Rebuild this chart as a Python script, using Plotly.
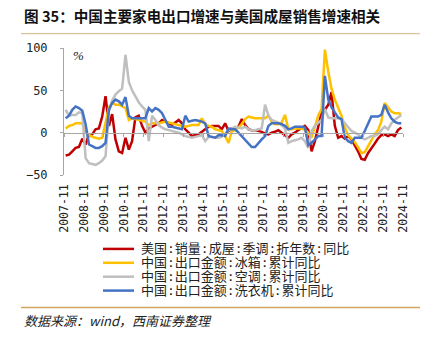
import pandas as pd
import plotly.graph_objects as go

# ---------------- data ----------------
dates = pd.date_range("2007-12-01", periods=102, freq="2MS")

us_home_sales = [-27, -26, -22, -18, -17, -7, -14, -2, -2, 4, 5, 19, 43, 8, 22, -8, -22, -24, -6, -20,
                 -10, 18, 20, 8, 0, 5, 7, 9, 11, 15, 13, 11, 9, 12, 15, 11, 4, 0, -4, -3,
                 -2, 1, 4, 7, 8, 8, 8, 4, 11, 2, 5, 6, 7, 16, 9, 4, 3, 3, 2, 1,
                 -1, -2, 0, 1, 3, 0, -4, -6, -2, 0, 3, 6, 8, 3, -22, -10, 6, 24, 27, 33,
                 48, 8, -6, -4, -7, -4, -8, -15, -22, -31, -32, -24, -19, -13, -7, -3, -2, -4, -2, -4,
                 3, 6]
fridge = [5, 8, 9, 11, 11, 11, 0, -3, -5, -6, -7, -6, 10, 30, 35, 33, 33, 31, 29, 15,
          17, 16, 15, 14, 13, 9, 11, 11, 11, 12, 13, 12, 11, 10, 9, 8, 7, 8, 9, 9,
          9, 17, 10, 8, 7, 4, 3, 2, -4, -12, 2, 3, 6, 10, 16, 19, 18, 17, 17, 17,
          17, 20, 13, 10, 10, 12, 21, 4, 4, 5, 5, 5, 3, 0, -6, 8, 20, 28, 98, 72,
          52, 39, 30, 20, 6, -3, -7, -11, -17, -24, -23, -16, -9, -2, 3, 13, 35, 30, 25, 23,
          23, 22]
aircon = [27, 20, 21, 21, 24, 23, -30, -36, -37, -38, -36, -33, -28, 25, 38, 45, 49, 52, 92, 60,
          50, 42, 36, 31, 27, -10, 20, 15, 9, 6, 4, 3, 2, 1, 0, -2, -4, -5, -6, -5,
          -4, -3, -10, -5, -5, -6, -6, -5, -2, 3, 5, 7, 6, 5, 7, 4, 3, 3, 4, 5,
          33, 20, 15, 13, 12, 9, 5, -12, -10, -9, -8, -6, -10, -18, 2, 8, 12, 15, 28, 18,
          17, 17, 17, 16, 11, 6, 2, 0, -2, -6, -8, -6, -4, -4, -2, 3, 7, 4, 11, 15,
          18, 21]
washer = [17, 20, 27, 31, 29, 26, 10, -14, -16, -18, -18, -16, -12, 27, 35, 39, 37, 33, 42, 20,
          17, 17, 17, 17, 17, 29, 25, 29, 27, 23, 15, 7, 7, 6, 5, 4, 20, 13, 14, 15,
          14, 13, 11, -4, -5, -6, -3, -3, -4, 5, 4, 4, 0, -4, -8, -13, -17, -17, -12, -8,
          -4, 8, 11, 11, 11, 10, 8, 4, 5, 7, 7, 7, 6, -15, -12, -8, -4, -4, 67, 39,
          30, 24, 18, 16, -6, -10, -12, -6, -6, -6, 2, 10, 19, 19, 19, 21, 33, 24, 17, 13,
          11, 11]

series_values = [us_home_sales, fridge, aircon, washer]
series_names = ["美国:销量:成屋:季调:折年数:同比",
                "中国:出口金额:冰箱:累计同比",
                "中国:出口金额:空调:累计同比",
                "中国:出口金额:洗衣机:累计同比"]
series_colors = ["#C00000", "#FFC000", "#BFBFBF", "#4472C4"]

tick_years = list(range(2007, 2025))
tick_dates = [f"{y}-11-01" for y in tick_years]
tick_labels = [f"{y}-11" for y in tick_years]
y_ticks = [-50, 0, 50, 100]

title_text = "图 35：中国主要家电出口增速与美国成屋销售增速相关"
source_text = "数据来源：wind，西南证券整理"

# ---------------- layout geometry ----------------
W, H = 436, 340
L, R, T, B = 64, 403, 47.5, 175.5


def px(x):
    return (x - L) / (R - L)


def py(y):
    return (B - y) / (B - T)


fig = go.Figure()
n = len(series_values)
for k, (vals, name, col) in enumerate(zip(series_values, series_names, series_colors)):
    # the top-most series lives on the overlaying label axis (same range) so that axis is drawn
    xa = "x2" if k == n - 1 else "x"
    fig.add_trace(go.Scatter(x=dates, y=vals, mode="lines", name=name, xaxis=xa, yaxis="y",
                             line=dict(color=col, width=2.5), showlegend=False,
                             hoverinfo="skip"))

mono = "DejaVu Sans Mono, Noto Sans CJK SC"
axis_gray = "#A6A6A6"
x_range = ["2007-11-01", "2024-11-01"]

fig.update_layout(
    width=W, height=H,
    margin=dict(l=L, r=W - R, t=T, b=H - B, pad=0),
    paper_bgcolor="white", plot_bgcolor="white",
    showlegend=False,
    xaxis=dict(range=x_range, anchor="free", position=50 / 150,
               showline=True, linecolor=axis_gray, linewidth=1,
               ticks="outside", ticklen=3, tickcolor=axis_gray,
               tickvals=tick_dates, showticklabels=False,
               showgrid=False, zeroline=False),
    xaxis2=dict(range=x_range, overlaying="x", anchor="y", side="bottom",
                showline=False, ticks="", tickvals=tick_dates, ticktext=tick_labels,
                tickangle=-90, tickfont=dict(family=mono, size=11.5, color="#222"),
                ticklabelstandoff=6, showgrid=False, zeroline=False),
    yaxis=dict(range=[-50, 100], tickvals=y_ticks, showline=True, linecolor=axis_gray,
               linewidth=1, ticks="outside", ticklen=3, tickcolor=axis_gray,
               tickfont=dict(family=mono, size=12, color="#222"),
               ticklabelstandoff=10, showgrid=False, zeroline=False),
)

annotations = [
    dict(text="<b>" + title_text + "</b>", x=px(22), y=py(15), xref="paper", yref="paper",
         xanchor="left", yanchor="middle", showarrow=False,
         font=dict(family="Noto Sans CJK SC", size=14.6, color="#111")),
    dict(text="<i>" + source_text + "</i>", x=px(22), y=py(322), xref="paper", yref="paper",
         xanchor="left", yanchor="middle", showarrow=False,
         font=dict(family="Noto Sans CJK SC", size=13, color="#222")),
    dict(text="<i>%</i>", x=px(71), y=py(55), xref="paper", yref="paper",
         xanchor="left", yanchor="middle", showarrow=False,
         font=dict(family="Liberation Serif", size=13, color="#222")),
]
shapes = [
    dict(type="line", xref="paper", yref="paper", x0=px(21), x1=px(420), y0=py(33), y1=py(33),
         line=dict(color="#DCC39B", width=1.2)),
    dict(type="line", xref="paper", yref="paper", x0=px(21), x1=px(420), y0=py(309), y1=py(309),
         line=dict(color="#D4A45E", width=1.5)),
]

# manual legend (compact row spacing as in reference)
for k, (name, col) in enumerate(zip(series_names, series_colors)):
    yy = 250 + 14 * k
    shapes.append(dict(type="line", xref="paper", yref="paper", x0=px(103), x1=px(134),
                       y0=py(yy), y1=py(yy), line=dict(color=col, width=2.5)))
    annotations.append(dict(text=name, x=px(139), y=py(yy), xref="paper", yref="paper",
                            xanchor="left", yanchor="middle", showarrow=False,
                            font=dict(family=mono, size=13, color="#222")))

fig.update_layout(annotations=annotations, shapes=shapes)

fig.write_html("out.html", config={"displayModeBar": False})
